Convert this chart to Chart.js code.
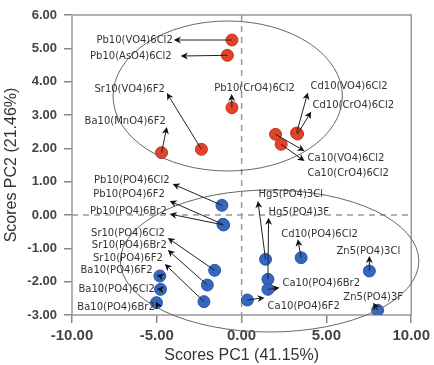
<!DOCTYPE html>
<html>
<head>
<meta charset="utf-8">
<script src="https://cdn.jsdelivr.net/npm/chart.js@4"></script>
<style>
  html, body { margin: 0; padding: 0; background: #fff; }
  #c { display: block; }
</style>
</head>
<body>
<canvas id="c" width="434" height="365"></canvas>
<script>
// Vanadate / chromate / arsenate / manganate compounds (PC scores)
const redNames = ['Pb10(VO4)6Cl2', 'Pb10(AsO4)6Cl2', 'Sr10(VO4)6F2', 'Ba10(MnO4)6F2', 'Pb10(CrO4)6Cl2',
                  'Cd10(VO4)6Cl2', 'Cd10(CrO4)6Cl2', 'Ca10(VO4)6Cl2', 'Ca10(CrO4)6Cl2'];
const redPC1 = [-0.57, -0.84, -2.37, -4.72, -0.57, 3.24, 3.30, 2.00, 2.33];
const redPC2 = [5.25, 4.79, 1.97, 1.87, 3.22, 2.46, 2.43, 2.42, 2.12];

// Phosphate compounds (PC scores)
const blueNames = ['Pb10(PO4)6Cl2', 'Pb10(PO4)6F2', 'Pb10(PO4)6Br2',
                   'Sr10(PO4)6Cl2', 'Sr10(PO4)6Br2', 'Sr10(PO4)6F2',
                   'Ba10(PO4)6F2', 'Ba10(PO4)6Cl2', 'Ba10(PO4)6Br2',
                   'Hg5(PO4)3Cl', 'Hg5(PO4)3F', 'Ca10(PO4)6Br2', 'Ca10(PO4)6F2',
                   'Cd10(PO4)6Cl2', 'Zn5(PO4)3Cl', 'Zn5(PO4)3F'];
const bluePC1 = [-1.16, -1.10, -1.06, -1.59, -2.02, -2.22, -4.82, -4.78, -5.02, 1.41, 1.55, 1.55, 0.34, 3.51, 7.53, 8.02];
const bluePC2 = [0.29, -0.28, -0.30, -1.66, -2.10, -2.60, -1.83, -2.23, -2.63, -1.33, -1.93, -2.23, -2.55, -1.28, -1.68, -2.86];

// Axis ticks
const xTicks = [-10, -5, 0, 5, 10];
const yTicks = [-3, -2, -1, 0, 1, 2, 3, 4, 5, 6];

// Label placement in score units: arrow tip, text anchor, text alignment
const redTips = [[-4.0, 5.25], [-3.59, 4.77], [-4.41, 3.66], [-4.41, 2.64], [-0.59, 3.63],
                 [3.90, 3.67], [4.10, 3.10], [3.71, 1.92], [3.71, 1.62]];
const redText = [[-4.06, 5.25, 'right'], [-4.12, 4.75, 'right'], [-4.53, 3.78, 'right'], [-4.47, 2.82, 'right'],
                 [0.76, 3.81, 'center'], [4.06, 3.87, 'left'], [4.18, 3.30, 'left'], [3.88, 1.71, 'left'], [3.88, 1.26, 'left']];
const blueTips = [[-4.06, 0.93], [-4.24, 0.42], [-4.24, 0.03], [-4.35, -0.69], [-4.35, -1.05], [-4.53, -1.47],
                  [-5.00, -1.80], [-5.00, -2.22], [-5.05, -2.60], [0.96, 0.42], [1.59, -0.08], [2.24, -2.18],
                  [1.35, -2.48], [3.31, -0.73], [7.53, -1.23], [7.76, -2.63]];
const blueText = [[-4.24, 1.05, 'right'], [-4.53, 0.63, 'right'], [-4.41, 0.12, 'right'], [-4.53, -0.54, 'right'],
                  [-4.41, -0.90, 'right'], [-4.65, -1.29, 'right'], [-5.24, -1.65, 'right'], [-5.12, -2.22, 'right'],
                  [-5.12, -2.76, 'right'], [1.00, 0.63, 'left'], [1.59, 0.09, 'left'], [2.41, -2.04, 'left'],
                  [1.53, -2.73, 'left'], [4.59, -0.57, 'center'], [7.47, -1.08, 'center'], [7.76, -2.46, 'center']];

// Group ellipses: centre and semi-axes in score units
const groupEllipses = [[-0.82, 3.57, 6.76, 2.25], [1.65, -1.38, 8.80, 2.13]];

function toPoints(xs, ys) { return xs.map((x, i) => ({ x: x, y: ys[i] })); }

const decorations = {
  id: 'decorations',
  beforeDatasetsDraw(chart) {
    const { ctx, chartArea: a, scales: { x, y } } = chart;
    ctx.save();
    ctx.strokeStyle = '#999';
    ctx.lineWidth = 1.5;
    ctx.setLineDash([6, 5]);
    const x0 = x.getPixelForValue(0), y0 = y.getPixelForValue(0);
    ctx.beginPath();
    ctx.moveTo(x0, a.top); ctx.lineTo(x0, a.bottom);
    ctx.moveTo(a.left, y0); ctx.lineTo(a.right, y0);
    ctx.stroke();
    ctx.setLineDash([]);
    ctx.strokeStyle = '#999';
    ctx.lineWidth = 1.5;
    ctx.strokeRect(a.left, a.top, a.right - a.left, a.bottom - a.top);
    ctx.restore();
  },
  afterDatasetsDraw(chart) {
    const { ctx, scales: { x, y } } = chart;
    ctx.save();
    // group ellipses
    ctx.strokeStyle = '#666';
    ctx.lineWidth = 1;
    groupEllipses.forEach(([cx, cy, rx, ry]) => {
      const px = x.getPixelForValue(cx), py = y.getPixelForValue(cy);
      const prx = Math.abs(x.getPixelForValue(cx + rx) - px);
      const pry = Math.abs(y.getPixelForValue(cy + ry) - py);
      ctx.beginPath();
      ctx.ellipse(px, py, prx, pry, 0, 0, Math.PI * 2);
      ctx.stroke();
    });
    // arrows and compound labels
    const drawSet = (names, xs, ys, tips, texts) => {
      names.forEach((name, i) => {
        const sx = x.getPixelForValue(xs[i]), sy = y.getPixelForValue(ys[i]);
        const tx = x.getPixelForValue(tips[i][0]), ty = y.getPixelForValue(tips[i][1]);
        const ang = Math.atan2(ty - sy, tx - sx);
        const len = Math.hypot(tx - sx, ty - sy);
        ctx.strokeStyle = '#222';
        ctx.fillStyle = '#111';
        ctx.lineWidth = 1;
        if (len > 7) {
          ctx.beginPath();
          ctx.moveTo(sx, sy);
          ctx.lineTo(tx - Math.cos(ang) * 5, ty - Math.sin(ang) * 5);
          ctx.stroke();
        }
        ctx.beginPath();
        ctx.moveTo(tx, ty);
        ctx.lineTo(tx - Math.cos(ang) * 7 + Math.sin(ang) * 3.5, ty - Math.sin(ang) * 7 - Math.cos(ang) * 3.5);
        ctx.lineTo(tx - Math.cos(ang) * 5, ty - Math.sin(ang) * 5);
        ctx.lineTo(tx - Math.cos(ang) * 7 - Math.sin(ang) * 3.5, ty - Math.sin(ang) * 7 + Math.cos(ang) * 3.5);
        ctx.closePath();
        ctx.fill();
        const [lx, ly, al] = texts[i];
        ctx.font = '10px "DejaVu Sans"';
        ctx.fillStyle = '#333';
        ctx.textAlign = al;
        ctx.textBaseline = 'middle';
        ctx.fillText(name, x.getPixelForValue(lx), y.getPixelForValue(ly));
      });
    };
    drawSet(redNames, redPC1, redPC2, redTips, redText);
    drawSet(blueNames, bluePC1, bluePC2, blueTips, blueText);
    ctx.restore();
  }
};

new Chart(document.getElementById('c'), {
  type: 'scatter',
  data: {
    datasets: [
      { data: toPoints(redPC1, redPC2), backgroundColor: '#e0442a', borderColor: '#c2361f', borderWidth: 1, pointRadius: 6 },
      { data: toPoints(bluePC1, bluePC2), backgroundColor: '#3566c0', borderColor: '#2c57a8', borderWidth: 1, pointRadius: 6 }
    ]
  },
  options: {
    responsive: false,
    animation: false,
    devicePixelRatio: 1,
    layout: { autoPadding: false, padding: { top: 15, right: 22, left: 0, bottom: 0 } },
    plugins: { legend: { display: false }, tooltip: { enabled: false } },
    scales: {
      x: {
        type: 'linear', min: -10, max: 10,
        afterBuildTicks(s) { s.ticks = xTicks.map(v => ({ value: v })); },
        afterFit(s) { s.height = 50; },
        border: { display: false },
        grid: { drawOnChartArea: false, tickLength: 8, color: '#888', lineWidth: 1.5 },
        ticks: { padding: 4, color: '#444', font: { family: '"Liberation Sans", Arial', size: 15, weight: 'bold' }, callback: v => v.toFixed(2) },
        title: { display: true, text: 'Scores PC1 (41.15%)', color: '#333', padding: { top: 0, bottom: 0 },
                 font: { family: '"Liberation Sans", Arial', size: 16 } }
      },
      y: {
        type: 'linear', min: -3, max: 6,
        afterBuildTicks(s) { s.ticks = yTicks.map(v => ({ value: v })); },
        afterFit(s) { s.width = 72; },
        border: { display: false },
        grid: { drawOnChartArea: false, tickLength: 8, color: '#888', lineWidth: 1.5 },
        ticks: { padding: 7, color: '#444', font: { family: '"Liberation Sans", Arial', size: 13, weight: 'bold' }, callback: v => v.toFixed(2) },
        title: { display: true, text: 'Scores PC2 (21.46%)', color: '#333', padding: { top: 2, bottom: 0 },
                 font: { family: '"Liberation Sans", Arial', size: 16 } }
      }
    }
  },
  plugins: [decorations]
});
</script>
</body>
</html>
